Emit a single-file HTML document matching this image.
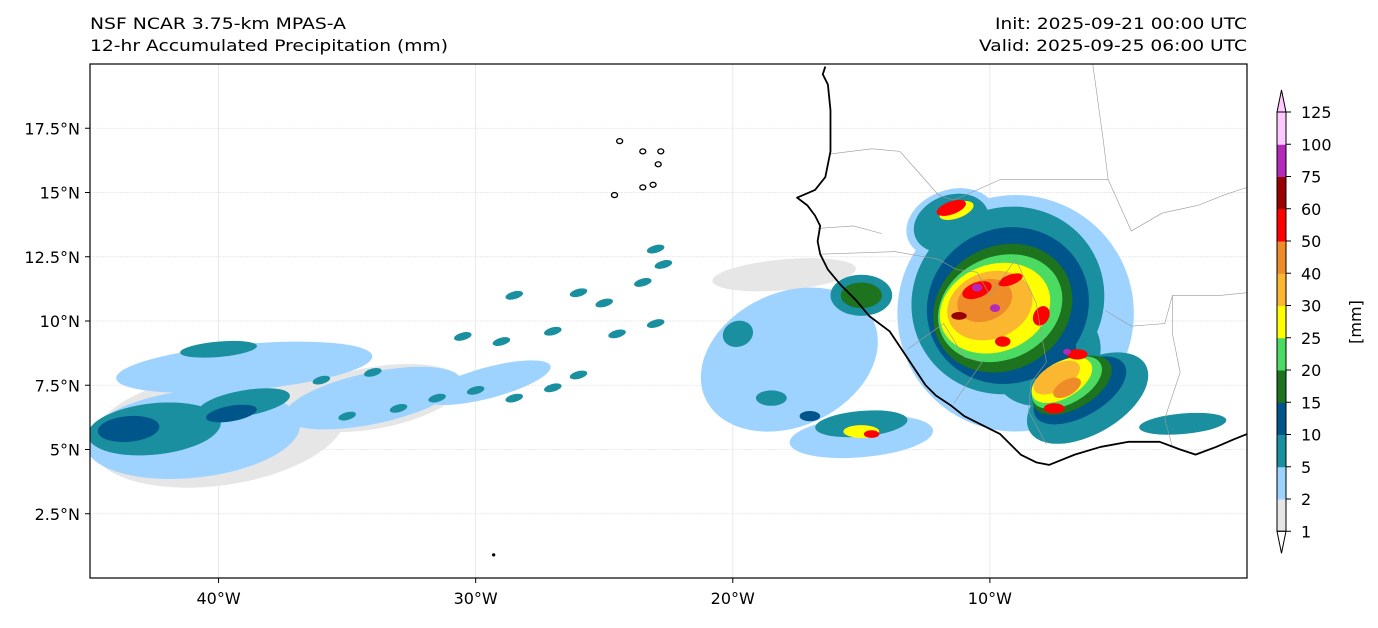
<!DOCTYPE html>
<html><head><meta charset="utf-8"><style>
body{margin:0;background:#fff;font-family:"Liberation Sans","DejaVu Sans",sans-serif;}
svg text{font-family:"DejaVu Sans","Liberation Sans",sans-serif;}
</style></head><body>
<svg id="chart" width="1378" height="623" viewBox="0 0 1378 623">
<text x="90" y="29" font-size="16" textLength="256" lengthAdjust="spacingAndGlyphs">NSF NCAR 3.75-km MPAS-A</text>
<text x="90" y="51" font-size="16" textLength="358" lengthAdjust="spacingAndGlyphs">12-hr Accumulated Precipitation (mm)</text>
<text x="995" y="29" font-size="16" textLength="252" lengthAdjust="spacingAndGlyphs">Init: 2025-09-21 00:00 UTC</text>
<text x="979" y="51" font-size="16" textLength="268" lengthAdjust="spacingAndGlyphs">Valid: 2025-09-25 06:00 UTC</text>
<defs><clipPath id="mapclip"><rect x="90" y="64" width="1157" height="514"/></clipPath></defs>
<g id="grid"></g>
<g id="precip" clip-path="url(#mapclip)"></g>
<g id="borders" clip-path="url(#mapclip)"></g>
<g id="coast" clip-path="url(#mapclip)"></g>
<rect x="90" y="64" width="1157" height="514" fill="none" stroke="#000" stroke-width="1.2"/>
<g id="axes"></g>
<g id="cbar"></g>
<text transform="translate(1361,322) rotate(-90)" font-size="16" text-anchor="middle">[mm]</text>
</svg>
<script>
const lonTicks=[-40,-30,-20,-10];
const lonTickLabels=["40°W","30°W","20°W","10°W"];
const latTicks=[2.5,5,7.5,10,12.5,15,17.5];
const latTickLabels=["2.5°N","5°N","7.5°N","10°N","12.5°N","15°N","17.5°N"];
const levels=[1,2,5,10,15,20,25,30,40,50,60,75,100,125];
const levelColors=["#e6e6e6","#9fd3ff","#1a8fa0","#00558a","#1d731e","#4cdb62","#ffff00","#fbb730","#ee8c2a","#ff0000","#990000","#b42ab8","#ffc8ff"];
const overColor="#ffc8ff";
const coastLon=[-16.4,-16.5,-16.3,-16.2,-16.2,-16.4,-16.8,-17.5,-17.1,-16.8,-16.6,-16.7,-16.6,-16.3,-15.8,-15.2,-14.7,-13.9,-13.3,-12.9,-12.5,-12.1,-11.5,-11.0,-10.4,-9.6,-8.8,-8.2,-7.7,-6.7,-5.7,-4.6,-3.4,-2.6,-2.0,-1.2,-0.5,0];
const coastLat=[19.9,19.6,19.2,18.2,16.6,15.6,15.1,14.8,14.5,14.1,13.7,13.1,12.6,12.0,11.4,10.8,10.2,9.6,8.7,8.1,7.5,7.1,6.7,6.3,6.0,5.6,4.8,4.5,4.4,4.8,5.1,5.3,5.3,5.0,4.8,5.1,5.4,5.6];
const islandLon=[-24.4,-23.5,-22.8,-22.9,-24.6,-23.5,-23.1,-29.3];
const islandLat=[17.0,16.6,16.6,16.1,14.9,15.2,15.3,0.9];
const borderLines=[
 [[-16.2,16.5],[-14.6,16.7],[-13.5,16.6],[-12.7,15.7],[-12.0,14.9],[-11.4,14.7],[-9.6,15.5],[-5.4,15.5],[-5.6,17.1],[-6.0,20.0]],
 [[-16.7,13.6],[-15.3,13.7],[-14.2,13.4]],
 [[-16.6,12.6],[-13.7,12.7],[-12.0,12.4],[-11.3,12.0],[-10.5,11.9],[-10.0,11.0],[-9.0,12.4],[-8.2,10.7],[-8.0,9.5],[-7.8,8.4],[-8.4,7.6],[-8.5,6.5],[-7.8,5.2]],
 [[-13.2,8.9],[-11.8,9.9],[-11.0,8.6],[-10.3,8.4],[-11.4,6.8]],
 [[-5.4,15.5],[-4.5,13.5],[-3.3,14.2],[-1.9,14.5],[-0.9,14.9],[0,15.2]],
 [[-2.9,11.0],[-2.9,9.5],[-2.6,8.0],[-3.2,6.2],[-2.9,5.1]],
 [[-2.9,11.0],[-1.0,11.0],[0,11.1]],
 [[-5.5,10.4],[-4.5,9.8],[-3.2,9.9],[-2.9,11.0]]
];
// precipitation cells (lon, lat, half-widths in degrees, tilt, value mm)
const cellLon=[-40,-34,-18,-41,-39,-34,-29.5,-17.8,-15,-9,-11.5,-42.5,-39,-40,-19.8,-15,-18.5,-9.3,-6.2,-11.5,-2.5,-15,
 -35,-33,-31.5,-30,-28.5,-27,-26,-29,-30.5,-27,-24.5,-23,-28.5,-26,-25,-23.5,-22.7,-23,-34,-36,
 -43.5,-39.5,-17,-9.3,-6.5,-9.5,-6.8,-15,-9.6,-7,-9.8,-7.2,-11.3,-15,-10,-7.4,-10.2,-7,
 -10.5,-9.2,-11.5,-6.6,-7.5,-8,-9.5,-14.6,-11.2,-10.5,-9.8,-7,-7.8,-7.8];
const cellLat=[5.8,7,11.8,5.6,8.2,7,7.6,8.5,5.5,10.3,13.8,5.8,6.8,8.9,9.5,6,7,10.8,7,13.8,6,11,
 6.3,6.6,7,7.3,7,7.4,7.9,9.2,9.4,9.6,9.5,9.9,11,11.1,10.7,11.5,12.2,12.8,8,7.7,
 5.8,6.4,6.3,10.6,7.3,10.5,7.5,11,10.5,7.6,10.5,7.7,14.3,5.7,10.6,7.8,10.8,7.4,
 11.2,11.6,14.4,8.7,6.6,10.2,9.2,5.6,10.2,11.3,10.5,8.8,8.6,8.8];
const cellLonSpan=[5,3.5,2.8,4.2,5,3.5,2.5,3.6,2.8,4.6,1.8,2.6,1.8,1.5,0.6,1.8,0.6,3.8,2.6,1.5,1.7,1.2,
 0.35,0.35,0.35,0.35,0.35,0.35,0.35,0.35,0.35,0.35,0.35,0.35,0.35,0.35,0.35,0.35,0.35,0.35,0.35,0.35,
 1.2,1,0.4,3.2,2,2.8,1.7,0.8,2.5,1.5,2.2,1.3,0.7,0.7,1.7,1.0,1.1,0.6,
 0.6,0.5,0.6,0.4,0.4,0.4,0.3,0.3,0.3,0.2,0.2,0.15,2.2,1.2];
const cellLatSpan=[2.2,1.2,0.6,1.7,0.9,1,0.6,2.6,0.8,4.6,1.3,1,0.5,0.3,0.5,0.5,0.3,3.6,1.4,1.1,0.4,0.8,
 0.15,0.15,0.15,0.15,0.15,0.15,0.15,0.15,0.15,0.15,0.15,0.15,0.15,0.15,0.15,0.15,0.15,0.15,0.15,0.15,
 0.5,0.3,0.2,3.0,1,2.4,0.9,0.5,2.0,0.8,1.7,0.7,0.3,0.25,1.3,0.5,0.8,0.3,
 0.3,0.2,0.25,0.2,0.2,0.3,0.2,0.15,0.15,0.15,0.15,0.12,1.8,1.0];
const cellTilt=[-8,-10,-5,-6,-5,-12,-15,-25,-5,-30,-20,-6,-10,-5,-20,-5,0,-30,-30,-20,-5,0,
 -15,-15,-15,-15,-15,-15,-15,-15,-15,-15,-15,-15,-15,-15,-15,-15,-15,-15,-15,-15,
 -5,-10,0,-30,-30,-30,-30,0,-25,-30,-20,-30,-20,0,-20,-30,-20,-30,
 -20,-20,-20,0,0,-60,0,0,0,0,0,0,-30,-30];
const cellVal=[1,1,1,2,2,2,2,2,2,2,2,5,5,5,5,5,5,5,5,5,5,5,
 5,5,5,5,5,5,5,5,5,5,5,5,5,5,5,5,5,5,5,5,
 10,10,10,10,10,15,15,15,20,20,25,25,25,25,30,30,40,40,
 50,50,50,50,50,50,50,50,60,80,80,80,5,10];
const lonToX=lon=>90+(lon+45)*(1157/45);
const latToY=lat=>578-lat*(514/20);
const svgNS="http://www.w3.org/2000/svg";
function mk(tag,attrs,parent){const e=document.createElementNS(svgNS,tag);for(const k in attrs)e.setAttribute(k,attrs[k]);parent.appendChild(e);return e;}
function colorFor(v){if(v>=125)return overColor;let c=levelColors[0];for(let i=0;i<levelColors.length;i++){if(v>=levels[i])c=levelColors[i];}return c;}
const gridG=document.getElementById('grid'),axesG=document.getElementById('axes');
lonTicks.forEach((lon,i)=>{const x=lonToX(lon);
 const l=mk('line',{x1:x,x2:x,y1:64,y2:578,stroke:'#e4e4e4','stroke-width':0.8},gridG);
 
 const t=mk('line',{x1:x,x2:x,y1:578,y2:583,stroke:'#000'},axesG);
 
 const tx=mk('text',{x:x,y:604,'font-size':16,'text-anchor':'middle'},axesG);tx.textContent=lonTickLabels[i];
 });
latTicks.forEach((lat,i)=>{const y=latToY(lat);
 const l=mk('line',{x1:90,x2:1247,y1:y,y2:y,stroke:'#e4e4e4','stroke-width':0.8,'stroke-dasharray':'2,1'},gridG);
 
 const t=mk('line',{x1:85,x2:90,y1:y,y2:y,stroke:'#000'},axesG);
 
 const tx=mk('text',{x:80,y:y+6,'font-size':16,'text-anchor':'end'},axesG);tx.textContent=latTickLabels[i];
 });
const precipG=document.getElementById('precip');
const order=cellVal.map((v,i)=>i).sort((a,b)=>cellVal[a]-cellVal[b]||a-b);
const kx=1157/45,ky=514/20;
order.forEach(i=>{const cx=lonToX(cellLon[i]),cy=latToY(cellLat[i]);
 const e=mk('ellipse',{cx:cx,cy:cy,rx:cellLonSpan[i]*kx,ry:cellLatSpan[i]*ky,fill:colorFor(cellVal[i]),transform:`rotate(${cellTilt[i]} ${cx} ${cy})`},precipG);
 
 });
const bordersG=document.getElementById('borders');
borderLines.forEach(line=>{const p=mk('polyline',{points:line.map(q=>lonToX(q[0])+','+latToY(q[1])).join(' '),fill:'none',stroke:'#999','stroke-width':0.6},bordersG);
 });
const coastG=document.getElementById('coast');
const cl=mk('polyline',{points:coastLon.map((lo,i)=>lonToX(lo)+','+latToY(coastLat[i])).join(' '),fill:'none',stroke:'#000','stroke-width':1.8,'stroke-linejoin':'round'},coastG);

islandLon.forEach((lo,i)=>{const e=mk('ellipse',{cx:lonToX(lo),cy:latToY(islandLat[i]),rx:i==7?1:3,ry:i==7?1:2.5,fill:i==7?'#000':'none',stroke:'#000','stroke-width':1.3},coastG);
 });
const cbG=document.getElementById('cbar');const cbx=1277,cbw=9,y125=112,step=32.25;
const lvY=k=>y125+(levels.length-1-k)*step;
for(let k=0;k<levelColors.length;k++){const r=mk('rect',{x:cbx,y:lvY(k+1),width:cbw,height:step+0.5,fill:levelColors[k]},cbG);
 }
const triTop=mk('polygon',{points:`${cbx},${y125} ${cbx+cbw},${y125} ${cbx+cbw/2},${y125-22}`,fill:overColor,stroke:'#000','stroke-width':1},cbG);

const triBot=mk('polygon',{points:`${cbx},${lvY(0)} ${cbx+cbw},${lvY(0)} ${cbx+cbw/2},${lvY(0)+22}`,fill:'#fff',stroke:'#000','stroke-width':1},cbG);

const fr=mk('rect',{x:cbx,y:y125,width:cbw,height:lvY(0)-y125,fill:'none',stroke:'#000','stroke-width':1},cbG);

levels.forEach((v,k)=>{const y=lvY(k);
 const t=mk('line',{x1:cbx+cbw,x2:cbx+cbw+5,y1:y,y2:y,stroke:'#000'},cbG);
 
 const tx=mk('text',{x:1301,y:y+6,'font-size':16},cbG);tx.textContent=v;
 });
</script>
</body></html>
